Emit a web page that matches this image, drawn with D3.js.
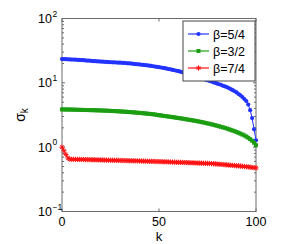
<!DOCTYPE html>
<html><head><meta charset="utf-8">
<script src="https://cdn.jsdelivr.net/npm/d3@7"></script>
<style>body{margin:0;background:#fff}svg{display:block}text{font-family:"Liberation Sans",Arial,sans-serif}</style>
</head><body>
<script>
const kValues = d3.range(0, 101);
const seriesNames = ["β=5/4", "β=3/2", "β=7/4"];
const blueValues = [23.4,23.3,23.3,23.2,23.1,23.0,23.0,22.9,22.8,22.7,
22.6,22.5,22.3,22.2,22.1,22.0,21.8,21.7,21.6,21.5,
21.4,21.3,21.2,21.1,21.0,20.9,20.8,20.8,20.7,20.6,
20.6,20.5,20.4,20.3,20.1,20.0,19.9,19.7,19.6,19.4,
19.3,19.1,19.0,18.8,18.7,18.5,18.3,18.1,17.9,17.7,
17.5,17.3,17.1,16.9,16.6,16.4,16.2,15.9,15.7,15.4,
15.2,14.9,14.6,14.4,14.1,13.8,13.5,13.2,12.9,12.6,
12.3,12.0,11.8,11.5,11.2,11.0,10.7,10.5,10.2,10.0,
9.7,9.5,9.3,9.0,8.8,8.6,8.3,8.0,7.7,7.4,
7.1,6.7,6.4,6.0,5.6,5.2,4.6,3.76,2.83,1.9,1.28];
const greenValues = [3.86,3.86,3.85,3.85,3.84,3.84,3.83,3.82,3.81,3.80,
3.80,3.79,3.78,3.78,3.77,3.76,3.76,3.75,3.74,3.73,
3.72,3.71,3.70,3.69,3.68,3.66,3.65,3.64,3.62,3.61,
3.59,3.58,3.56,3.55,3.53,3.51,3.49,3.47,3.45,3.43,
3.41,3.39,3.36,3.34,3.32,3.29,3.27,3.24,3.22,3.17,
3.14,3.11,3.08,3.05,3.02,2.99,2.96,2.93,2.90,2.87,
2.84,2.81,2.78,2.75,2.71,2.68,2.65,2.62,2.59,2.56,
2.52,2.49,2.45,2.42,2.38,2.34,2.31,2.27,2.23,2.19,
2.15,2.11,2.07,2.03,1.99,1.95,1.90,1.86,1.81,1.77,
1.72,1.67,1.62,1.57,1.52,1.46,1.40,1.33,1.26,1.17,1.07];
const redValues = [1.00,0.88,0.77,0.68,0.650,0.649,0.648,0.647,0.646,0.645,
0.643,0.642,0.641,0.640,0.639,0.638,0.637,0.636,0.635,0.634,
0.633,0.631,0.630,0.629,0.628,0.627,0.626,0.625,0.624,0.622,
0.621,0.620,0.619,0.618,0.617,0.615,0.614,0.613,0.612,0.611,
0.610,0.608,0.607,0.606,0.604,0.603,0.602,0.600,0.599,0.597,
0.596,0.595,0.593,0.592,0.590,0.589,0.588,0.586,0.585,0.583,
0.582,0.580,0.579,0.577,0.576,0.574,0.573,0.571,0.570,0.568,
0.567,0.565,0.564,0.562,0.561,0.560,0.558,0.555,0.552,0.549,
0.546,0.543,0.540,0.537,0.533,0.530,0.527,0.524,0.521,0.518,
0.514,0.511,0.508,0.504,0.500,0.496,0.492,0.488,0.484,0.480,0.476];
const xTicks = [0, 50, 100];
const yTicks = [0.1, 1, 10, 100];
const yTickExps = ["−1", "0", "1", "2"];

const W = 295, H = 244;
const L = 62, R = 256, T = 18.5, B = 211.5;
const svg = d3.select("body").append("svg").attr("width", W).attr("height", H);
const x = d3.scaleLinear().domain([0, 100]).range([L, R]);
const y = d3.scaleLog().domain([0.1, 100]).range([B, T]);

const series = [
  {name: seriesNames[0], vals: blueValues, color: "#2233ff", marker: "dot"},
  {name: seriesNames[1], vals: greenValues, color: "#1c9e12", marker: "square"},
  {name: seriesNames[2], vals: redValues, color: "#ff1010", marker: "star"}
];

const axCol = "#6b6b6b";
svg.append("rect").attr("x", L).attr("y", T).attr("width", R - L).attr("height", B - T)
  .attr("fill", "none").attr("stroke", axCol).attr("stroke-width", 1);

const minor = [];
for (let e = -1; e < 2; e++) for (let m = 2; m <= 9; m++) minor.push(m * Math.pow(10, e));
const g = svg.append("g");
minor.forEach(v => {
  g.append("line").attr("x1", L).attr("x2", L + 2).attr("y1", y(v)).attr("y2", y(v)).attr("stroke", axCol);
  g.append("line").attr("x1", R).attr("x2", R - 2).attr("y1", y(v)).attr("y2", y(v)).attr("stroke", axCol);
});
yTicks.forEach(v => {
  g.append("line").attr("x1", L).attr("x2", L + 3).attr("y1", y(v)).attr("y2", y(v)).attr("stroke", axCol);
  g.append("line").attr("x1", R).attr("x2", R - 3).attr("y1", y(v)).attr("y2", y(v)).attr("stroke", axCol);
});
xTicks.forEach(v => {
  g.append("line").attr("x1", x(v)).attr("x2", x(v)).attr("y1", B).attr("y2", B - 3).attr("stroke", axCol);
  g.append("line").attr("x1", x(v)).attr("x2", x(v)).attr("y1", T).attr("y2", T + 3).attr("stroke", axCol);
});

yTicks.forEach((v, i) => {
  svg.append("text").attr("x", L - 10).attr("y", y(v) + 4.5)
    .attr("text-anchor", "end").attr("font-size", 12.5).attr("fill", "#000").text("10");
  svg.append("text").attr("x", L - 9.5).attr("y", y(v) - 2).attr("font-size", 8.5).attr("fill", "#000").text(yTickExps[i]);
});
xTicks.forEach(v => {
  svg.append("text").attr("x", x(v)).attr("y", B + 14.5).attr("text-anchor", "middle")
    .attr("font-size", 12.5).attr("fill", "#000").text(v);
});
svg.append("text").attr("x", (L + R) / 2).attr("y", B + 29.5).attr("text-anchor", "middle")
  .attr("font-size", 13).text("k");
const yl = svg.append("text").attr("transform", `translate(25,${(T + B) / 2}) rotate(-90)`)
  .attr("text-anchor", "middle").attr("font-size", 14);
yl.append("tspan").text("σ");
yl.append("tspan").attr("font-size", 10).attr("dy", 3).text("k");

function drawMarker(sel, type, cx, cy, color) {
  if (type === "dot") {
    sel.append("circle").attr("cx", cx).attr("cy", cy).attr("r", 2.1).attr("fill", color);
  } else if (type === "square") {
    sel.append("rect").attr("x", cx - 2).attr("y", cy - 2).attr("width", 4).attr("height", 4).attr("fill", color);
  } else {
    const s = 2.6, d = 1.9;
    sel.append("path").attr("d", `M${cx - s},${cy}L${cx + s},${cy}M${cx},${cy - s}L${cx},${cy + s}M${cx - d},${cy - d}L${cx + d},${cy + d}M${cx - d},${cy + d}L${cx + d},${cy - d}`)
      .attr("stroke", color).attr("stroke-width", 1).attr("fill", "none");
  }
}

const clip = svg.append("clipPath").attr("id", "c").append("rect")
  .attr("x", L - 4).attr("y", T).attr("width", R - L + 8).attr("height", B - T);
const plot = svg.append("g").attr("clip-path", "url(#c)");
const line = d3.line().x((d, i) => x(kValues[i])).y(d => y(d));
series.forEach(s => {
  plot.append("path").datum(s.vals).attr("d", line).attr("fill", "none")
    .attr("stroke", s.color).attr("stroke-width", 1);
  s.vals.forEach((v, i) => drawMarker(plot, s.marker, x(kValues[i]), y(v), s.color));
});

const lg = svg.append("g");
const lx = 183, ly = 21, lw = 72, lh = 60;
lg.append("rect").attr("x", lx).attr("y", ly).attr("width", lw).attr("height", lh)
  .attr("fill", "#fff").attr("stroke", "#444").attr("stroke-width", 1);
series.forEach((s, i) => {
  const yy = ly + 13 + i * 17;
  lg.append("line").attr("x1", lx + 5).attr("x2", lx + 26).attr("y1", yy).attr("y2", yy)
    .attr("stroke", s.color).attr("stroke-width", 1.2);
  drawMarker(lg, s.marker, lx + 15.5, yy, s.color);
  lg.append("text").attr("x", lx + 30).attr("y", yy + 4.5).attr("font-size", 12.5).text(s.name);
});
</script>
</body></html>
